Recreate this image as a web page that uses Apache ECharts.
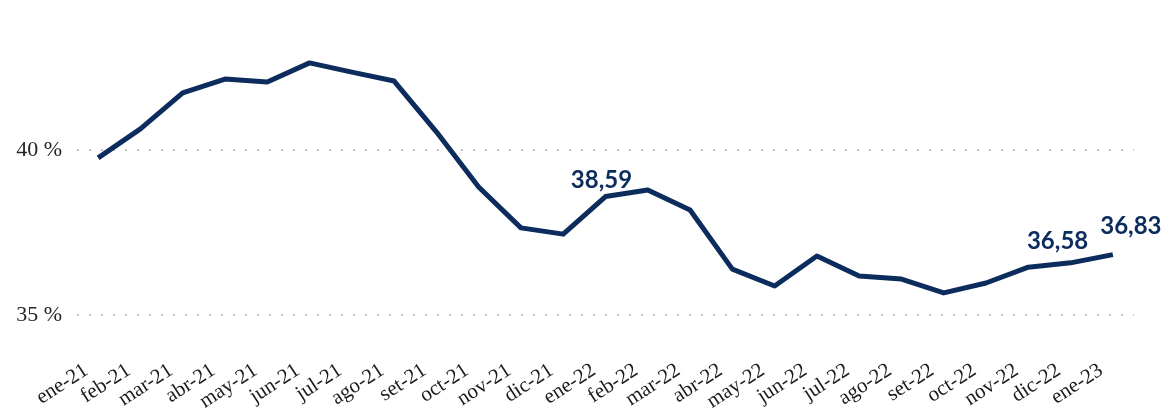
<!DOCTYPE html>
<html>
<head>
<meta charset="utf-8">
<script src="https://cdn.jsdelivr.net/npm/echarts@6/dist/echarts.min.js"></script>
<style>
	html,body{margin:0;padding:0;background:#fff;}
	#chart{width:1168px;height:416px;}
</style>
</head>
<body>
<div id="chart"></div>
<script>
/* 
	datos del grafico
 */

// meses
var meses = ['ene-21','feb-21','mar-21','abr-21','may-21','jun-21','jul-21','ago-21','set-21','oct-21','nov-21','dic-21',
	'ene-22','feb-22','mar-22','abr-22','may-22','jun-22','jul-22','ago-22','set-22','oct-22','nov-22','dic-22','ene-23'];
// porcentaje mensual
var valores = [39.76,40.64,41.73,42.15,42.06,42.64,42.36,42.09,40.55,38.88,37.64,37.45,
	38.59,38.79,38.18,36.39,35.88,36.79,36.18,36.09,35.67,35.97,36.45,36.58,36.83];
// meses con etiqueta
var etiquetados = ['ene-22','dic-22','ene-23'];
// marcas del eje y (solo estas llevan texto y linea)
var yMarcas = [35, 40];
var yMin = 34;
var yMax = 44;

var azul = '#0b2c5c';
var gris = '#c4c4c4';

// desplazamiento de cada etiqueta
var desplaza = {
	'ene-22':[-4,0],
	'dic-22':[-13,-6],
	'ene-23':[18,-12]
};

// color de cada linea de division, de yMin a yMax
var coloresGrid = [];
for(var v = yMin; v <= yMax; v++){
	coloresGrid.push(yMarcas.indexOf(v) >= 0 ? gris : 'rgba(0,0,0,0)');
}

var serieDatos = valores.map(function(v,i){
	var m = meses[i];
	if(etiquetados.indexOf(m) < 0){
		return v;
	}
	return {
		value:v,
		label:{
			show:true,
			position:'top',
			distance:4,
			offset:desplaza[m],
			formatter:function(p){
				return p.value.toFixed(2).replace('.',',');
			},
			fontFamily:'Lato',
			fontWeight:'bold',
			fontSize:24,
			color:azul
		}
	};
});

var myChart = echarts.init(document.getElementById('chart'));

var option = {
	animation:false,
	grid:{
		left:77,
		right:34,
		top:18,
		bottom:68,
		outerBoundsMode:'none'
	},
	xAxis:{
		type:'category',
		data:meses,
		boundaryGap:true,
		axisLine:{show:false},
		axisTick:{show:false},
		axisLabel:{
			interval:0,
			rotate:33,
			margin:13,
			padding:[0,14,0,0],
			fontFamily:'Liberation Serif',
			fontSize:21,
			color:'#1a1a1a'
		}
	},
	yAxis:{
		type:'value',
		min:yMin,
		max:yMax,
		interval:1,
		axisLine:{show:false},
		axisTick:{show:false},
		axisLabel:{
			margin:15,
			fontFamily:'Liberation Serif',
			fontSize:22,
			color:'#262626',
			formatter:function(v){
				return yMarcas.indexOf(v) >= 0 ? v + ' %' : '';
			}
		},
		splitLine:{
			show:true,
			lineStyle:{
				color:coloresGrid,
				width:2,
				type:[2,10]
			}
		}
	},
	series:[{
		type:'line',
		data:serieDatos,
		symbol:'circle',
		symbolSize:0,
		showSymbol:true,
		smooth:false,
		lineStyle:{
			color:azul,
			width:5,
			join:'round'
		},
		itemStyle:{color:azul}
	}]
};

myChart.setOption(option);
</script>
</body>
</html>
